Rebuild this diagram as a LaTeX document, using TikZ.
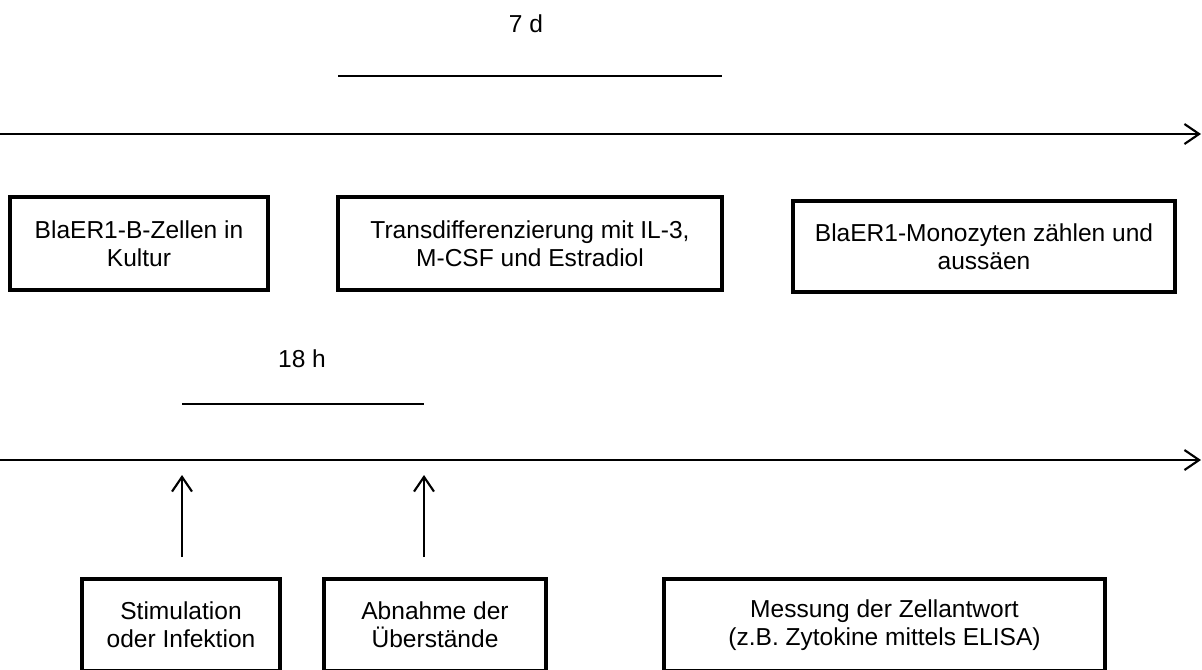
\documentclass[tikz,border=0pt]{standalone}
\usepackage{fontspec}
\setmainfont{Liberation Sans}
\usetikzlibrary{arrows.meta}
\begin{document}
\begin{tikzpicture}[x=0.75pt,y=-0.75pt,
  box/.style={draw, line width=3.2pt, align=center, inner sep=0pt, font=\fontsize{18.4}{21}\selectfont},
  lbl/.style={font=\fontsize{18.4}{21}\selectfont, inner sep=0pt, anchor=base},
  ln/.style={line width=1.6pt},
  arr/.style={ln, -{Straight Barb[length=11pt,width=15pt]}}
]
\useasboundingbox (0,0) rectangle (1202,669);
\clip (0,0) rectangle (1202,669);
% top timeline
\node[lbl] (t7) at (526,32) {7 d};
\coordinate (d1) at (338,76); \coordinate (d2) at (722,76);
\draw[ln] (d1) -- (d2);
\coordinate (a1s) at (-2,134); \coordinate (a1e) at (1201,134);
\draw[arr] (a1s) -- (a1e);
\node[box, minimum width=193.5pt, minimum height=69.75pt] (b1) at (139,243.5) {BlaER1-B-Zellen in\\Kultur};
\node[box, minimum width=288pt, minimum height=69.75pt] (b2) at (530,243.5) {Transdifferenzierung mit IL-3,\\M-CSF und Estradiol};
\node[box, minimum width=286.5pt, minimum height=68.25pt] (b3) at (984,246.5) {BlaER1-Monozyten zählen und\\aussäen};
% bottom timeline
\node[lbl] (t18) at (302,367) {18 h};
\coordinate (h1) at (182,404); \coordinate (h2) at (424,404);
\draw[ln] (h1) -- (h2);
\coordinate (a2s) at (-2,460); \coordinate (a2e) at (1201,460);
\draw[arr] (a2s) -- (a2e);
\coordinate (u1s) at (182,557); \coordinate (u1e) at (182,475);
\coordinate (u2s) at (424,557); \coordinate (u2e) at (424,475);
\draw[arr] (u1s) -- (u1e);
\draw[arr] (u2s) -- (u2e);
\node[box, minimum width=148.5pt, minimum height=69pt] (b4) at (181,625) {Stimulation\\oder Infektion};
\node[box, minimum width=166.5pt, minimum height=69pt] (b5) at (435,625) {Abnahme der\\Überstände};
\node[box, minimum width=330.75pt, minimum height=69pt] (b6) at (884.5,625) {Messung der Zellantwort\\(z.B. Zytokine mittels ELISA)};
\end{tikzpicture}
\end{document}
